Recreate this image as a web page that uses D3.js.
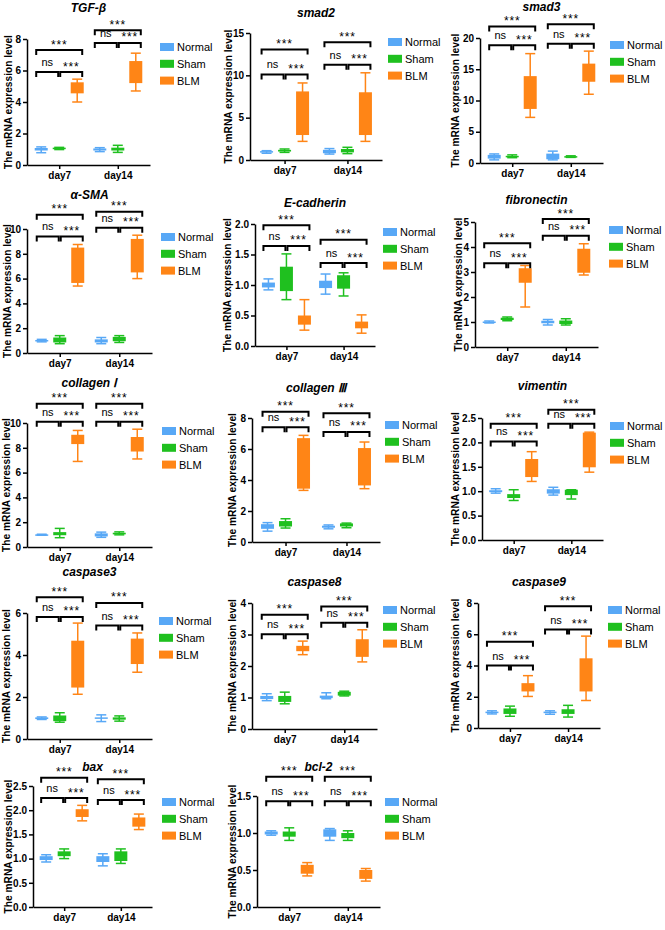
<!DOCTYPE html>
<html>
<head>
<meta charset="utf-8">
<script src="https://cdn.jsdelivr.net/npm/d3@7/dist/d3.min.js"></script>
<style>
  html, body { margin: 0; padding: 0; background: #fff; }
  svg { display: block; font-family: "Liberation Sans", Arial, sans-serif; }
</style>
</head>
<body>
<svg id="chart" width="665" height="930"></svg>
<script>
// ---------------- DATA ----------------
const days = ["day7", "day14"];
const groups = ["Normal", "Sham", "BLM"];
const titles = ["TGF-β", "smad2", "smad3", "α-SMA", "E-cadherin", "fibronectin",
  "collagen Ⅰ", "collagen Ⅲ", "vimentin", "caspase3", "caspase8", "caspase9", "bax", "bcl-2"];
const yLabel = "The mRNA expression level";

// y tick values per panel
const yTicks = [
  [0, 2, 4, 6, 8], [0, 5, 10, 15], [0, 5, 10, 15, 20], [0, 2, 4, 6, 8, 10],
  [0, 0.5, 1.0, 1.5, 2.0], [0, 1, 2, 3, 4, 5], [0, 2, 4, 6, 8, 10], [0, 2, 4, 6, 8],
  [0, 0.5, 1.0, 1.5, 2.0, 2.5], [0, 2, 4, 6], [0, 1, 2, 3, 4], [0, 2, 4, 6, 8],
  [0, 0.5, 1.0, 1.5, 2.0, 2.5], [0, 0.5, 1.0, 1.5]
];
const tickDecimals = [0, 0, 0, 0, 1, 0, 0, 0, 1, 0, 0, 0, 1, 1];

// box stats [min, q1, q3, max]; order: day7 Normal, Sham, BLM, day14 Normal, Sham, BLM
const tgfb = [[0.78,0.92,1.08,1.15],[0.98,1.02,1.1,1.12],[4.0,4.55,5.25,5.45],
              [0.85,0.92,1.05,1.1],[0.8,0.92,1.1,1.25],[4.7,5.2,6.6,7.1]];
const smad2 = [[0.8,0.9,1.05,1.1],[0.9,1.0,1.2,1.3],[2.2,2.95,8.1,9.1],
               [0.7,0.8,1.2,1.35],[0.75,0.9,1.3,1.5],[2.2,2.95,8.0,10.3]];
const smad3 = [[0.5,0.7,1.3,1.45],[0.85,0.95,1.15,1.3],[7.3,8.65,13.9,17.5],
               [0.5,0.6,1.5,1.9],[0.9,0.95,1.1,1.15],[11.0,13.0,15.9,17.9]];
const asma = [[0.9,0.95,1.05,1.1],[0.75,0.85,1.25,1.4],[5.4,5.65,8.5,8.75],
              [0.75,0.85,1.1,1.25],[0.85,0.95,1.3,1.4],[6.0,6.5,9.2,9.5]];
const ecad = [[0.92,0.96,1.04,1.1],[0.76,0.9,1.3,1.51],[0.26,0.35,0.5,0.76],
              [0.85,0.95,1.07,1.18],[0.82,0.94,1.16,1.2],[0.21,0.29,0.4,0.51]];
const fibro = [[0.96,0.98,1.02,1.04],[1.05,1.08,1.17,1.2],[1.6,2.57,3.15,3.26],
               [0.88,0.95,1.05,1.1],[0.88,0.92,1.06,1.13],[2.88,2.97,3.93,4.13]];
const col1 = [[0.95,0.97,1.02,1.03],[0.75,0.95,1.2,1.5],[6.9,8.3,9.05,9.4],
              [0.78,0.85,1.1,1.2],[0.98,1.02,1.15,1.22],[7.1,7.7,8.87,9.5]];
const col3 = [[0.7,0.85,1.15,1.25],[0.9,1.0,1.35,1.5],[3.33,3.44,6.7,6.88],
              [0.85,0.92,1.05,1.1],[0.92,1.0,1.2,1.22],[3.44,3.65,6.06,6.45]];
const vim = [[0.96,0.98,1.02,1.05],[0.81,0.86,0.94,1.03],[1.2,1.29,1.66,1.81],
             [0.92,0.95,1.04,1.08],[0.84,0.92,1.03,1.03],[1.39,1.49,2.2,2.21]];
const casp3 = [[0.93,0.95,1.03,1.05],[0.8,0.85,1.12,1.25],[2.13,2.45,4.68,5.52],
               [0.83,0.97,1.03,1.15],[0.85,0.92,1.03,1.1],[3.18,3.57,4.78,5.05]];
const casp8 = [[0.9,0.95,1.05,1.12],[0.8,0.86,1.05,1.17],[2.36,2.47,2.64,2.79],
               [0.96,0.98,1.06,1.15],[1.05,1.06,1.18,1.2],[2.13,2.29,2.85,3.15]];
const casp9 = [[0.9,0.95,1.05,1.1],[0.75,0.9,1.25,1.4],[2.02,2.34,2.87,3.35],
               [0.88,0.95,1.05,1.1],[0.7,0.9,1.2,1.45],[1.76,2.34,4.46,5.88]];
const bax = [[0.93,0.97,1.05,1.08],[1.0,1.05,1.15,1.2],[1.78,1.86,2.02,2.1],
             [0.85,0.93,1.05,1.1],[0.9,0.95,1.15,1.2],[1.6,1.66,1.85,1.92]];
const bcl2 = [[0.97,0.98,1.02,1.03],[0.9,0.95,1.02,1.07],[0.42,0.45,0.57,0.6],
              [0.9,0.95,1.05,1.06],[0.9,0.93,1.0,1.03],[0.35,0.38,0.5,0.52]];
const boxData = [tgfb, smad2, smad3, asma, ecad, fibro, col1, col3, vim, casp3, casp8, casp9, bax, bcl2];

// significance bracket heights (axis units): [day7 top, day7 lower, day14 top, day14 lower]
const bracketLevels = [
  [7.3, 5.9, 8.55, 7.75], [13.05, 10.1, 13.9, 11.25], [21.85, 18.85, 22.2, 19.1],
  [11.15, 9.4, 11.4, 10.1], [1.98, 1.64, 1.74, 1.36], [4.15, 3.35, 5.12, 4.45],
  [11.55, 10.1, 11.55, 10.1], [8.4, 7.4, 8.3, 7.1], [2.38, 2.02, 2.67, 2.38],
  [6.75, 5.81, 6.48, 5.4], [3.63, 3.01, 3.89, 3.37], [5.52, 4.0, 7.8, 6.3],
  [2.67, 2.25, 2.64, 2.21], [1.76, 1.43, 1.76, 1.43]
];
// labels: top (Normal vs BLM), lower-left (Normal vs Sham), lower-right (Sham vs BLM)
const sigLabels = ["***", "ns", "***"];

// ---------------- LAYOUT ----------------
const layout = [
  {ax: 27, right: 150, top: 39, bottom: 165, ty: 12, lx: 8, gx: 160, gy: 47},
  {ax: 250, right: 382, top: 33, bottom: 160, ty: 17, lx: 228, gx: 388, gy: 42},
  {ax: 480, right: 603, top: 38, bottom: 163, ty: 11, lx: 455, gx: 610, gy: 45},
  {ax: 27, right: 152, top: 229, bottom: 353, ty: 199, lx: 7, gx: 161, gy: 237},
  {ax: 255, right: 375, top: 224, bottom: 346, ty: 207, lx: 227, gx: 383, gy: 232},
  {ax: 475, right: 598, top: 222, bottom: 347, ty: 204, lx: 458, gx: 609, gy: 230},
  {ax: 27, right: 152, top: 423, bottom: 547, ty: 387, lx: 6, gx: 162, gy: 431},
  {ax: 252, right: 380, top: 418, bottom: 542, ty: 392, lx: 232, gx: 385, gy: 425},
  {ax: 482, right: 603, top: 418, bottom: 540, ty: 390, lx: 455, gx: 610, gy: 426},
  {ax: 27, right: 152, top: 613, bottom: 739, ty: 576, lx: 6, gx: 159, gy: 621},
  {ax: 252, right: 377, top: 603, bottom: 729, ty: 586, lx: 232, gx: 383, gy: 610},
  {ax: 478, right: 600, top: 603, bottom: 728, ty: 586, lx: 455, gx: 608, gy: 610},
  {ax: 33, right: 152, top: 786, bottom: 907, ty: 771, lx: 8, gx: 162, gy: 802},
  {ax: 257, right: 380, top: 796, bottom: 907, ty: 771, lx: 232, gx: 385, gy: 802}
];

const colors = {Normal: "#58a8f6", Sham: "#1fc01f", BLM: "#ff8516"};
const boxW = 13, capW = 10;

const svg = d3.select("#chart");
svg.append("rect").attr("width", 665).attr("height", 930).attr("fill", "#fff");

titles.forEach((title, i) => {
  const L = layout[i];
  const ticks = yTicks[i];
  const g = svg.append("g");
  const y = d3.scaleLinear().domain([0, d3.max(ticks)]).range([L.bottom, L.top]);
  const x = d3.scalePoint().domain(days).range([L.ax, L.right]).padding(0.55);
  const xg = d3.scaleBand().domain(groups).range([-27, 27]);
  const cx = (day, grp) => x(day) + xg(grp) + xg.bandwidth() / 2;

  g.append("text").attr("x", (L.ax + L.right) / 2).attr("y", L.ty)
    .attr("text-anchor", "middle").attr("font-size", 12).attr("font-weight", "bold")
    .attr("font-style", "italic").text(title);

  g.append("text")
    .attr("transform", `translate(${L.lx},${(L.top + L.bottom) / 2}) rotate(-90)`)
    .attr("text-anchor", "middle").attr("dominant-baseline", "central")
    .attr("font-size", 10.2).attr("font-weight", "bold").text(yLabel);

  const fmt = d3.format(tickDecimals[i] ? ".1f" : "d");
  const yAx = g.append("g").attr("transform", `translate(${L.ax},0)`)
    .call(d3.axisLeft(y).tickValues(ticks).tickFormat(fmt).tickSize(4).tickSizeOuter(0).tickPadding(2));
  const xAx = g.append("g").attr("transform", `translate(0,${L.bottom})`)
    .call(d3.axisBottom(x).tickSize(4).tickSizeOuter(0).tickPadding(3));
  [yAx, xAx].forEach(a => {
    a.select(".domain").attr("stroke", "#000").attr("stroke-width", 1.5);
    a.selectAll(".tick line").attr("stroke", "#000").attr("stroke-width", 1.5);
    a.selectAll(".tick text").attr("fill", "#000").attr("font-size", 10)
      .attr("font-weight", "bold").attr("font-family", "'Liberation Sans', Arial, sans-serif");
  });

  const data = boxData[i];
  days.forEach((day, di) => {
    groups.forEach((grp, gi) => {
      const [mn, q1, q3, mx] = data[di * 3 + gi];
      const c = cx(day, grp);
      const col = colors[grp];
      const bg = g.append("g");
      bg.append("line").attr("x1", c).attr("x2", c).attr("y1", y(mn)).attr("y2", y(mx))
        .attr("stroke", col).attr("stroke-width", 1.5);
      [mn, mx].forEach(v => bg.append("line").attr("x1", c - capW / 2).attr("x2", c + capW / 2)
        .attr("y1", y(v)).attr("y2", y(v)).attr("stroke", col).attr("stroke-width", 1.5));
      const yTop = y(q3), h = Math.max(1.5, y(q1) - y(q3));
      bg.append("rect").attr("x", c - boxW / 2).attr("y", yTop).attr("width", boxW).attr("height", h)
        .attr("fill", col);
    });
  });

  const lv = bracketLevels[i];
  days.forEach((day, di) => {
    const c = x(day);
    const yT = y(lv[di * 2]), yL = y(lv[di * 2 + 1]);
    const l = c - 23, r = c + 23, drop = 5;
    [[l, r, yT], [l, c - 1, yL], [c + 1, r, yL]].forEach(([a, b, yy]) => {
      g.append("path").attr("d", `M${a},${yy + drop}V${yy}H${b}V${yy + drop}`)
        .attr("fill", "none").attr("stroke", "#000").attr("stroke-width", 2);
    });
    const labelPos = [[c, yT], [c - 12, yL], [c + 12, yL]];
    sigLabels.forEach((lab, k) => {
      const isStar = lab.includes("*");
      g.append("text").attr("x", labelPos[k][0]).attr("y", labelPos[k][1] - (isStar ? 1.5 : 6))
        .attr("text-anchor", "middle").attr("font-size", isStar ? 12 : 11)
        .attr("letter-spacing", isStar ? 0.8 : 0).text(lab);
    });
  });

  groups.forEach((grp, gi) => {
    const yy = L.gy + gi * 16.8;
    g.append("rect").attr("x", L.gx).attr("y", yy - 4).attr("width", 14).attr("height", 8)
      .attr("fill", colors[grp]);
    g.append("text").attr("x", L.gx + 17).attr("y", yy + 4).attr("font-size", 11).text(grp);
  });
});
</script>
</body>
</html>
